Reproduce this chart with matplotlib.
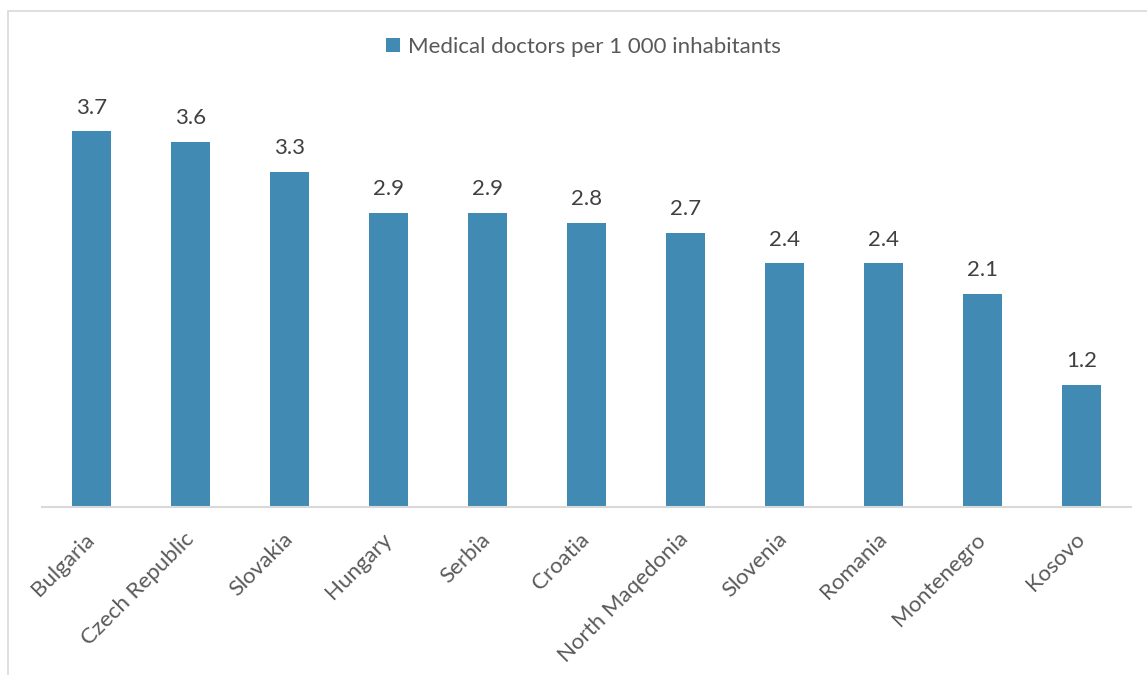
import matplotlib.pyplot as plt
from matplotlib.patches import Rectangle

# doctors per 1 000 inhabitants
countries = ['Bulgaria', 'Czech Republic', 'Slovakia', 'Hungary', 'Serbia', 'Croatia',
             'North Maqedonia', 'Slovenia', 'Romania', 'Montenegro', 'Kosovo']
doctors = [3.7, 3.6, 3.3, 2.9, 2.9, 2.8, 2.7, 2.4, 2.4, 2.1, 1.2]
series_name = 'Medical doctors per 1 000 inhabitants'

bar_color = '#418ab3'
grey_text = '#595959'

plt.rcParams['font.family'] = ['Lato', 'DejaVu Sans']

W, H = 1147, 675
fig = plt.figure(figsize=(W / 100, H / 100), dpi=100)

# plot area in pixels: baseline at y=507, 101.5 px per unit
left, right, base = 42, 1131, 507
ymax = 4.1
top = base - ymax * 101.5
ax = fig.add_axes([left / W, 1 - base / H, (right - left) / W, (base - top) / H])

x = range(len(countries))
bars = ax.bar(x, doctors, width=0.40, color=bar_color, label=series_name)
ax.set_xlim(-0.5, len(countries) - 0.5)
ax.set_ylim(0, ymax)

for xi, v in zip(x, doctors):
    ax.annotate(f'{v:.1f}', (xi, v), xytext=(0, 10), textcoords='offset points',
                ha='center', va='bottom', fontsize=16, color='#404040')

ax.set_xticks(list(x))
ax.set_xticklabels(countries, rotation=45, ha='right', va='center',
                   rotation_mode='anchor', fontsize=16, color=grey_text)
ax.tick_params(axis='x', length=0, pad=21)
ax.set_yticks([])
for side in ['top', 'right', 'left']:
    ax.spines[side].set_visible(False)
ax.spines['bottom'].set_color('#d9d9d9')
ax.spines['bottom'].set_linewidth(1.5)

leg = fig.legend(handles=[bars], labels=[series_name], loc='center',
                 bbox_to_anchor=(0.509, 1 - 47 / H), frameon=False, fontsize=16,
                 handlelength=0.6, handleheight=0.6, handletextpad=0.4)
for t in leg.get_texts():
    t.set_color(grey_text)

# chart border running off the right and bottom edges
fig.patches.append(Rectangle((8 / W, -0.05), 1.1, 1 - 11 / H + 0.05,
                             transform=fig.transFigure, fill=False,
                             edgecolor='#d9d9d9', linewidth=1.2))

fig.savefig('out.png', dpi=100)
